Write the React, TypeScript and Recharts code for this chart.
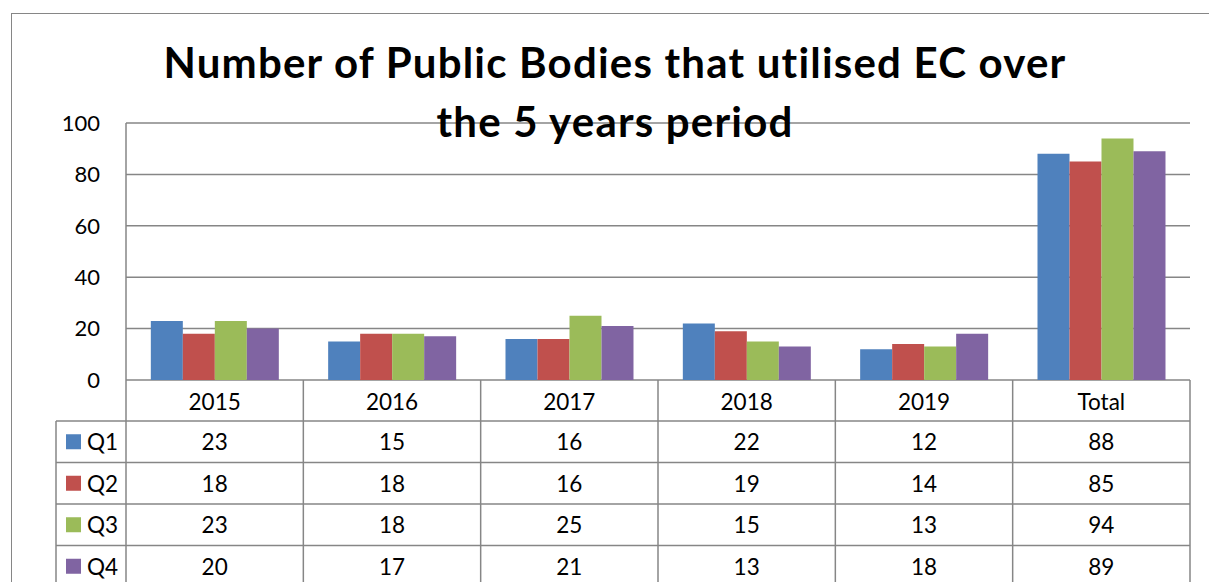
import { BarChart, Bar, XAxis, YAxis, CartesianGrid } from "recharts";

const CATEGORIES = ["2015", "2016", "2017", "2018", "2019", "Total"];
const SERIES_NAMES = ["Q1", "Q2", "Q3", "Q4"];
const Q1 = [23, 15, 16, 22, 12, 88];
const Q2 = [18, 18, 16, 19, 14, 85];
const Q3 = [23, 18, 25, 15, 13, 94];
const Q4 = [20, 17, 21, 13, 18, 89];
const Y_TICKS = [0, 20, 40, 60, 80, 100];

const COLORS = ["#4F81BD", "#C0504D", "#9BBB59", "#8064A2"];
const SERIES = [Q1, Q2, Q3, Q4];

const data = CATEGORIES.map((name, i) => ({
  name,
  Q1: Q1[i],
  Q2: Q2[i],
  Q3: Q3[i],
  Q4: Q4[i],
}));

const W = 1209;
const H = 582;
const PLOT_LEFT = 126;
const PLOT_RIGHT = 1190;
const PLOT_TOP = 123;
const PLOT_BOTTOM = 380;
const BAND = (PLOT_RIGHT - PLOT_LEFT) / CATEGORIES.length;
const HEADER_BOTTOM = 421;
const ROW_H = 41.5;
const GRID = "#868686";
const FONT = "Lato, 'Open Sans', sans-serif";

function TableColumn(props: any) {
  const { x, payload } = props;
  const i = payload.index;
  const left = x - BAND / 2;
  const right = x + BAND / 2;
  return (
    <g fontFamily={FONT} fontSize={22.5} fill="#000">
      <text x={x} y={401} textAnchor="middle" dominantBaseline="central">
        {payload.value}
      </text>
      {SERIES.map((vals, k) => (
        <g key={k}>
          <line x1={left} x2={right} y1={HEADER_BOTTOM + ROW_H * k} y2={HEADER_BOTTOM + ROW_H * k} stroke={GRID} strokeWidth={1.5} />
          <text x={x} y={HEADER_BOTTOM + ROW_H * (k + 0.5)} textAnchor="middle" dominantBaseline="central">
            {vals[i]}
          </text>
        </g>
      ))}
      <line x1={right} x2={right} y1={PLOT_BOTTOM} y2={H + 5} stroke={GRID} strokeWidth={1.5} />
      {i === 0 && (
        <g>
          <line x1={left} x2={left} y1={PLOT_BOTTOM} y2={H + 5} stroke={GRID} strokeWidth={1.5} />
          <line x1={56} x2={56} y1={HEADER_BOTTOM} y2={H + 5} stroke={GRID} strokeWidth={1.5} />
          {SERIES_NAMES.map((name, k) => {
            const cy = HEADER_BOTTOM + ROW_H * (k + 0.5);
            return (
              <g key={name}>
                <line x1={56} x2={left} y1={HEADER_BOTTOM + ROW_H * k} y2={HEADER_BOTTOM + ROW_H * k} stroke={GRID} strokeWidth={1.5} />
                <rect x={66} y={cy - 7.5} width={15} height={15} fill={COLORS[k]} />
                <text x={87} y={cy} dominantBaseline="central">
                  {name}
                </text>
              </g>
            );
          })}
        </g>
      )}
    </g>
  );
}

export default function App() {
  return (
    <div
      style={{
        position: "absolute",
        left: 0,
        top: 0,
        width: W,
        height: H,
        overflow: "hidden",
        background: "#fff",
      }}
    >
      <div
        style={{
          position: "absolute",
          left: 11,
          top: 13,
          width: 1400,
          height: 800,
          border: `1.5px solid ${GRID}`,
        }}
      />
      <div style={{ position: "absolute", left: 0, top: 0 }}>
        <BarChart
          width={W}
          height={H}
          data={data}
          margin={{ top: PLOT_TOP, right: W - PLOT_RIGHT, bottom: 0, left: 0 }}
          barCategoryGap="14%"
          barGap={0}
        >
          <CartesianGrid vertical={false} stroke={GRID} strokeWidth={1.5} />
          <YAxis
            width={PLOT_LEFT}
            domain={[0, 100]}
            ticks={Y_TICKS}
            tickLine={false}
            tickSize={6}
            tickMargin={20}
            axisLine={{ stroke: GRID, strokeWidth: 1.5 }}
            tick={{ fontSize: 22, fill: "#000", fontFamily: FONT }}
          />
          <XAxis
            dataKey="name"
            height={H - PLOT_BOTTOM}
            axisLine={false}
            tickLine={false}
            interval={0}
            tick={<TableColumn />}
          />
          {SERIES_NAMES.map((name, k) => (
            <Bar key={name} dataKey={name} fill={COLORS[k]} isAnimationActive={false} />
          ))}
        </BarChart>
      </div>
      <div
        style={{
          position: "absolute",
          left: 0,
          width: 1230,
          top: 33,
          textAlign: "center",
          fontFamily: FONT,
          fontWeight: 700,
          fontSize: 42,
          letterSpacing: "1.2px",
          lineHeight: "59px",
          color: "#000",
          pointerEvents: "none",
        }}
      >
        Number of Public Bodies that utilised EC over
        <br />
        the 5 years period
      </div>
    </div>
  );
}
